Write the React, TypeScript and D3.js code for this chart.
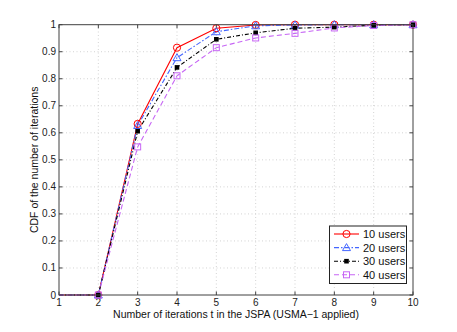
import React from 'react';
import * as d3 from 'd3';

const iterations = [1, 2, 3, 4, 5, 6, 7, 8, 9, 10];
const users10 = [0, 0, 0.633, 0.915, 0.987, 0.999, 1, 1, 1, 1];
const users20 = [0, 0, 0.627, 0.878, 0.974, 0.996, 0.999, 1, 1, 1];
const users30 = [0, 0, 0.606, 0.842, 0.946, 0.970, 0.987, 0.991, 0.998, 1];
const users40 = [0, 0, 0.548, 0.811, 0.915, 0.951, 0.968, 0.988, 0.997, 1];
const seriesNames = ['10 users', '20 users', '30 users', '40 users'];
const xTicks = [1, 2, 3, 4, 5, 6, 7, 8, 9, 10];
const yTicks = [0, 0.1, 0.2, 0.3, 0.4, 0.5, 0.6, 0.7, 0.8, 0.9, 1];

const W = 457, H = 332;
const margin = { top: 24.7, right: 44, bottom: 37, left: 59 };
const FONT = 'Liberation Sans, Arial, Helvetica, sans-serif';

const styles = [
  { color: '#ff0000', dash: '', marker: 'circle' },
  { color: '#4466ff', dash: '5,2,1.5,2', marker: 'triangle' },
  { color: '#000000', dash: '4,2,1,2', marker: 'dot' },
  { color: '#c766f5', dash: '5,3', marker: 'square' },
];

function Marker({ kind, x, y, color }: { kind: string; x: number; y: number; color: string }) {
  if (kind === 'circle') return <circle cx={x} cy={y} r={3.6} fill="none" stroke={color} strokeWidth={1} />;
  if (kind === 'triangle') {
    const s = 4;
    return <path d={`M${x},${y - s}L${x + s},${y + s * 0.75}L${x - s},${y + s * 0.75}Z`} fill="none" stroke={color} strokeWidth={1} />;
  }
  if (kind === 'dot') return <rect x={x - 2.3} y={y - 2.3} width={4.6} height={4.6} fill={color} />;
  return <rect x={x - 3} y={y - 3} width={6} height={6} fill="none" stroke={color} strokeWidth={1} />;
}

export default function App() {
  const x = d3.scaleLinear().domain([1, 10]).range([margin.left, W - margin.right]);
  const y = d3.scaleLinear().domain([0, 1]).range([H - margin.bottom, margin.top]);
  const all = [users10, users20, users30, users40];
  const line = d3.line<number>().x((_, i) => x(iterations[i])).y(d => y(d));
  const x0 = x(1), x1 = x(10), y0 = y(0), y1 = y(1);
  const axisColor = '#404040';

  return (
    <div style={{ position: 'fixed', left: 0, top: 0 }}>
      <svg width={W} height={H} style={{ display: 'block', background: '#fff' }} fontFamily={FONT}>
        {/* grid */}
        {xTicks.slice(1, -1).map(t => (
          <line key={'gx' + t} x1={x(t)} x2={x(t)} y1={y0} y2={y1} stroke="#c8c8c8" strokeWidth={0.8} strokeDasharray="1,2.5" />
        ))}
        {yTicks.slice(1, -1).map(t => (
          <line key={'gy' + t} x1={x0} x2={x1} y1={y(t)} y2={y(t)} stroke="#c8c8c8" strokeWidth={0.8} strokeDasharray="1,2.5" />
        ))}
        {/* ticks */}
        {xTicks.map(t => (
          <g key={'xt' + t}>
            <line x1={x(t)} x2={x(t)} y1={y0} y2={y0 - 3.5} stroke={axisColor} />
            <line x1={x(t)} x2={x(t)} y1={y1} y2={y1 + 3.5} stroke={axisColor} />
            <text x={x(t)} y={y0 + 11} fontSize={10} textAnchor="middle" fill="#222">{t}</text>
          </g>
        ))}
        {yTicks.map(t => (
          <g key={'yt' + t}>
            <line x1={x0} x2={x0 + 3.5} y1={y(t)} y2={y(t)} stroke={axisColor} />
            <line x1={x1} x2={x1 - 3.5} y1={y(t)} y2={y(t)} stroke={axisColor} />
            <text x={x0 - 3} y={y(t) + 3.5} fontSize={10} textAnchor="end" fill="#222">{d3.format('~g')(t)}</text>
          </g>
        ))}
        {/* series */}
        {all.map((vals, si) => (
          <path key={'s' + si} d={line(vals) || ''} fill="none" stroke={styles[si].color} strokeWidth={1.1} strokeDasharray={styles[si].dash} />
        ))}
        {all.map((vals, si) => (
          <g key={'m' + si}>
            {vals.map((v, i) => iterations[i] >= 2 ? (
              <Marker key={i} kind={styles[si].marker} x={x(iterations[i])} y={y(v)} color={styles[si].color} />
            ) : null)}
          </g>
        ))}
        {/* frame */}
        <rect x={x0} y={y1} width={x1 - x0} height={y0 - y1} fill="none" stroke={axisColor} strokeWidth={1} />
        {/* axis labels */}
        <text x={(x0 + x1) / 2} y={318} fontSize={10.5} textAnchor="middle" fill="#111">Number of iterations t in the JSPA (USMA−1 applied)</text>
        <text transform={`translate(38,${(y0 + y1) / 2}) rotate(-90)`} fontSize={10.5} textAnchor="middle" fill="#111">CDF of the number of iterations</text>
        {/* legend */}
        <g>
          <rect x={329.5} y={226} width={77} height={57.5} fill="#fff" stroke="#222" strokeWidth={1} />
          {seriesNames.map((name, i) => {
            const ly = 234 + i * 13.6;
            return (
              <g key={'l' + i}>
                <line x1={334} x2={359} y1={ly} y2={ly} stroke={styles[i].color} strokeWidth={1.1} strokeDasharray={styles[i].dash} />
                <Marker kind={styles[i].marker} x={346.5} y={ly} color={styles[i].color} />
                <text x={363} y={ly + 4} fontSize={11} fill="#111">{name}</text>
              </g>
            );
          })}
        </g>
      </svg>
    </div>
  );
}
